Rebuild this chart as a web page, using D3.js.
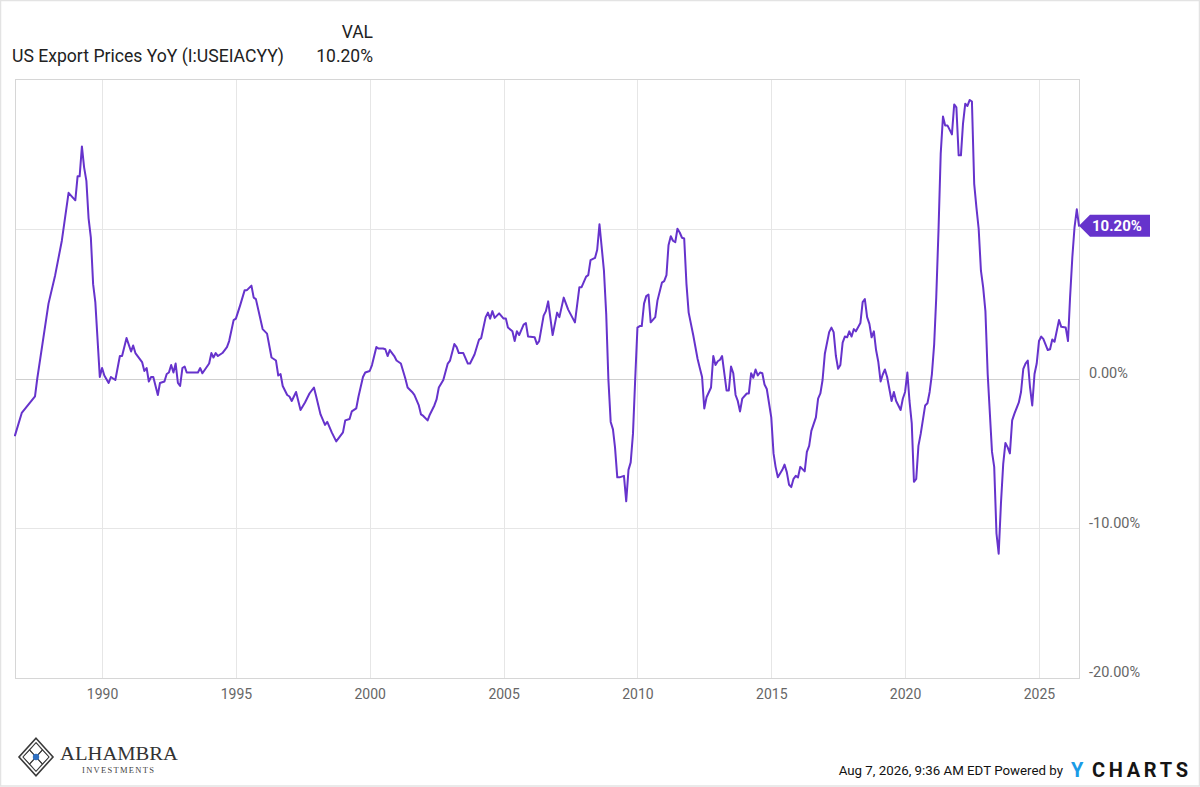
<!DOCTYPE html>
<html>
<head>
<meta charset="utf-8">
<script src="https://cdn.jsdelivr.net/npm/d3@7/dist/d3.min.js"></script>
<style>
  html, body { margin: 0; padding: 0; background: #fff; }
  svg { display: block; font-family: Roboto, "Noto Sans", sans-serif; }
</style>
</head>
<body>
<svg id="chart" width="1200" height="787"></svg>
<script>
// ---------------- DATA ----------------
const seriesName = "US Export Prices YoY (I:USEIACYY)";
const valueHeader = "VAL";
const xTickYears = [1990, 1995, 2000, 2005, 2010, 2015, 2020, 2025];
const yTickValues = [-20, -10, 0];
const gridValues = [-10, 0, 10];
const footerText = "Aug 7, 2026, 9:36 AM EDT Powered by";

// [month, YoY % change]
const exportYoY = [
["1986-10",-3.8],["1987-01",-2.3],["1987-07",-1.2],["1987-08",0.0],["1988-01",5.0],["1988-04",6.9],
["1988-07",9.2],["1988-10",12.4],["1989-01",11.9],["1989-02",13.5],["1989-03",13.5],["1989-04",15.5],
["1989-05",14.1],["1989-06",13.2],["1989-07",10.7],["1989-08",9.4],["1989-09",6.3],["1989-10",5.1],
["1989-12",0.1],["1990-01",0.7],["1990-02",0.2],["1990-04",-0.3],["1990-05",0.1],["1990-07",-0.1],
["1990-09",1.5],["1990-10",1.5],["1990-12",2.7],["1991-02",1.8],["1991-03",2.2],["1991-04",1.7],
["1991-05",1.5],["1991-07",1.1],["1991-08",0.5],["1991-09",0.7],["1991-10",-0.2],["1991-11",0.1],
["1991-12",0.1],["1992-02",-1.1],["1992-03",-0.3],["1992-05",-0.2],["1992-06",0.3],["1992-07",0.4],
["1992-08",0.9],["1992-09",0.4],["1992-10",1.0],["1992-11",-0.3],["1992-12",-0.5],["1993-01",0.7],
["1993-02",0.8],["1993-03",0.4],["1993-08",0.4],["1993-09",0.7],["1993-10",0.35],["1994-01",1.0],
["1994-02",1.7],["1994-03",1.4],["1994-04",1.7],["1994-05",1.5],["1994-07",1.7],["1994-09",2.1],
["1994-10",2.5],["1994-12",3.9],["1995-01",4.0],["1995-03",4.9],["1995-05",5.9],["1995-06",5.9],
["1995-08",6.2],["1995-09",5.4],["1995-10",5.3],["1996-01",3.3],["1996-03",3.0],["1996-05",1.4],
["1996-07",1.2],["1996-08",0.2],["1996-09",0.3],["1996-10",-0.5],["1996-12",-1.1],["1997-01",-1.2],
["1997-02",-1.5],["1997-04",-0.9],["1997-06",-2.1],["1997-08",-1.6],["1997-10",-1.0],["1997-12",-0.6],
["1998-01",-1.2],["1998-03",-2.4],["1998-05",-3.1],["1998-06",-2.9],["1998-08",-3.6],["1998-10",-4.2],
["1999-01",-3.6],["1999-02",-2.8],["1999-04",-2.7],["1999-05",-2.2],["1999-07",-2.0],["1999-08",-1.2],
["1999-10",0.1],["1999-11",0.4],["2000-01",0.5],["2000-02",0.9],["2000-04",2.1],["2000-05",2.0],
["2000-07",2.0],["2000-08",1.95],["2000-09",1.5],["2000-10",1.9],["2000-12",1.5],["2001-01",1.2],
["2001-03",1.0],["2001-05",0.0],["2001-06",-0.6],["2001-08",-0.9],["2001-09",-1.1],["2001-11",-1.8],
["2001-12",-2.4],["2002-01",-2.5],["2002-03",-2.8],["2002-04",-2.4],["2002-06",-1.8],["2002-07",-1.4],
["2002-08",-0.6],["2002-10",-0.1],["2002-12",1.0],["2003-01",1.2],["2003-03",2.3],["2003-04",2.1],
["2003-05",1.7],["2003-07",1.7],["2003-09",1.0],["2003-10",1.0],["2003-12",1.6],["2004-02",2.6],
["2004-03",2.7],["2004-05",4.1],["2004-06",4.4],["2004-07",4.0],["2004-08",4.5],["2004-09",4.05],
["2004-11",4.35],["2005-01",4.0],["2005-02",4.0],["2005-03",3.4],["2005-05",3.15],["2005-06",2.5],
["2005-07",3.15],["2005-08",2.9],["2005-10",3.6],["2005-11",3.7],["2005-12",2.8],["2006-03",2.75],
["2006-04",2.3],["2006-05",2.5],["2006-07",4.2],["2006-08",4.5],["2006-09",5.15],["2006-11",2.9],
["2007-01",4.4],["2007-02",4.1],["2007-04",5.4],["2007-06",4.6],["2007-09",3.75],["2007-11",6.1],
["2007-12",6.1],["2008-02",6.8],["2008-03",6.9],["2008-04",7.9],["2008-06",8.05],["2008-07",8.6],
["2008-08",10.3],["2008-10",7.2],["2008-11",4.3],["2008-12",-0.1],["2009-01",-2.9],["2009-02",-3.4],
["2009-03",-4.6],["2009-04",-6.6],["2009-05",-6.6],["2009-07",-6.5],["2009-08",-8.2],["2009-09",-6.1],
["2009-10",-5.6],["2009-11",-3.7],["2009-12",-0.1],["2010-01",3.4],["2010-02",3.5],["2010-03",3.5],
["2010-04",5.0],["2010-05",5.5],["2010-06",5.6],["2010-07",3.75],["2010-09",4.1],["2010-10",5.2],
["2010-12",6.4],["2011-01",6.5],["2011-02",6.9],["2011-03",8.9],["2011-04",9.5],["2011-05",9.2],
["2011-06",9.1],["2011-07",10.0],["2011-08",9.75],["2011-09",9.4],["2011-10",9.35],["2011-11",6.3],
["2011-12",4.4],["2012-02",2.9],["2012-04",1.3],["2012-05",0.7],["2012-06",0.1],["2012-07",-2.0],
["2012-08",-1.25],["2012-10",-0.6],["2012-11",1.5],["2012-12",0.9],["2013-01",1.15],["2013-02",1.25],
["2013-03",1.5],["2013-05",-0.8],["2013-06",-0.8],["2013-07",0.8],["2013-08",0.35],["2013-09",-1.1],
["2013-10",-1.5],["2013-11",-2.2],["2013-12",-1.35],["2014-02",-1.0],["2014-03",-1.0],["2014-04",0.35],
["2014-05",0.05],["2014-06",0.6],["2014-07",0.2],["2014-08",0.4],["2014-09",0.35],["2014-10",-0.4],
["2014-11",-0.7],["2015-01",-2.6],["2015-02",-5.0],["2015-03",-5.9],["2015-04",-6.6],["2015-06",-6.1],
["2015-07",-5.75],["2015-08",-6.25],["2015-09",-7.1],["2015-10",-7.25],["2015-11",-6.7],["2015-12",-6.5],
["2016-01",-6.6],["2016-02",-5.9],["2016-04",-6.2],["2016-05",-4.9],["2016-06",-4.5],["2016-07",-3.5],
["2016-09",-2.6],["2016-10",-1.35],["2016-11",-1.0],["2016-12",-0.1],["2017-01",1.65],["2017-03",3.1],
["2017-04",3.4],["2017-05",3.1],["2017-06",1.5],["2017-07",0.65],["2017-08",0.9],["2017-09",2.4],
["2017-10",2.8],["2017-11",2.75],["2017-12",3.15],["2018-01",2.8],["2018-02",3.3],["2018-03",3.15],
["2018-05",3.7],["2018-06",5.1],["2018-07",5.3],["2018-08",4.1],["2018-09",3.65],["2018-10",2.75],
["2018-11",3.15],["2018-12",1.9],["2019-01",1.1],["2019-02",-0.2],["2019-03",0.25],["2019-04",0.6],
["2019-05",0.1],["2019-07",-1.5],["2019-08",-0.9],["2019-09",-1.5],["2019-11",-2.1],["2019-12",-1.35],
["2020-01",-0.9],["2020-02",0.4],["2020-03",-1.5],["2020-04",-3.0],["2020-05",-6.9],["2020-06",-6.7],
["2020-07",-4.5],["2020-08",-3.7],["2020-10",-1.8],["2020-11",-1.65],["2020-12",-0.9],["2021-01",0.3],
["2021-02",2.3],["2021-03",5.4],["2021-04",9.9],["2021-05",15.0],["2021-06",17.5],["2021-07",16.9],
["2021-08",16.9],["2021-09",16.6],["2021-10",16.3],["2021-11",18.3],["2021-12",18.1],["2022-01",14.9],
["2022-02",14.9],["2022-03",17.0],["2022-04",18.35],["2022-05",18.2],["2022-06",18.6],["2022-07",18.5],
["2022-08",13.0],["2022-09",11.4],["2022-10",10.0],["2022-11",7.2],["2022-12",6.1],["2023-01",4.5],
["2023-02",0.3],["2023-04",-4.9],["2023-05",-5.9],["2023-06",-10.35],["2023-07",-11.7],["2023-08",-8.35],
["2023-09",-5.7],["2023-10",-4.3],["2023-11",-4.6],["2023-12",-5.0],["2024-01",-2.8],["2024-02",-2.35],
["2024-04",-1.6],["2024-05",-0.9],["2024-06",0.65],["2024-07",1.0],["2024-08",1.2],["2024-09",-0.6],
["2024-10",-1.8],["2024-11",0.3],["2024-12",1.0],["2025-01",2.5],["2025-02",2.8],["2025-03",2.65],
["2025-05",1.9],["2025-06",1.95],["2025-07",2.6],["2025-08",2.45],["2025-10",3.9],["2025-11",3.45],
["2026-01",3.4],["2026-02",2.5],["2026-03",5.4],["2026-04",8.1],["2026-05",10.1],["2026-06",11.3],
["2026-07",10.2]
];

// ---------------- CHART ----------------
const W = 1200, H = 787;
const plot = { left: 15, right: 1079, top: 79, bottom: 678 };
const parseMonth = d3.utcParse("%Y-%m");
const data = exportYoY.map(d => ({ date: parseMonth(d[0]), value: d[1] }));
const last = data[data.length - 1];
const fmtPct = v => v.toFixed(2) + "%";

const svg = d3.select("#chart");

// outer frame
svg.append("rect").attr("x", 0.5).attr("y", 0.5).attr("width", W - 1).attr("height", H - 1.5)
  .attr("fill", "#fff").attr("stroke", "#e3e3e3").attr("stroke-width", 1.5);

const x = d3.scaleUtc()
  .domain([data[0].date, last.date])
  .range([plot.left, plot.right]);
const y = d3.scaleLinear().domain([-20, 20]).range([plot.bottom, plot.top]);

const tickDates = xTickYears.map(yr => new Date(Date.UTC(yr, 0, 1)));

// gridlines
const grid = svg.append("g");
grid.selectAll("line.v").data(tickDates).join("line")
  .attr("x1", d => Math.round(x(d)) + 0.5).attr("x2", d => Math.round(x(d)) + 0.5)
  .attr("y1", plot.top).attr("y2", plot.bottom)
  .attr("stroke", "#e6e6e6").attr("stroke-width", 1);
grid.selectAll("line.h").data(gridValues).join("line")
  .attr("x1", plot.left).attr("x2", plot.right)
  .attr("y1", d => Math.round(y(d)) + 0.5).attr("y2", d => Math.round(y(d)) + 0.5)
  .attr("stroke", d => d === 0 ? "#cfcfcf" : "#e6e6e6").attr("stroke-width", 1);

// plot frame
svg.append("rect")
  .attr("x", plot.left + 0.5).attr("y", plot.top + 0.5)
  .attr("width", plot.right - plot.left).attr("height", plot.bottom - plot.top)
  .attr("fill", "none").attr("stroke", "#d6d6d6").attr("stroke-width", 1);

// x axis labels
const xAxis = d3.axisBottom(x).tickValues(tickDates).tickFormat(d3.utcFormat("%Y"))
  .tickSize(0).tickPadding(11);
const gx = svg.append("g").attr("transform", `translate(0,${plot.bottom})`).call(xAxis);
gx.select(".domain").remove();
gx.selectAll("text").attr("fill", "#666").style("font-size", "14px").style("font-family", "Roboto");

// y axis labels (the 10% label sits under the last-value badge)
const yAxis = d3.axisRight(y).tickValues(yTickValues).tickFormat(fmtPct).tickSize(0).tickPadding(10);
const gy = svg.append("g").attr("transform", `translate(${plot.right},0)`).call(yAxis);
gy.select(".domain").remove();
gy.selectAll("text").attr("fill", "#666").attr("dy", "-0.08em")
  .style("font-size", "14.5px").style("font-family", "Roboto");

// line
const line = d3.line().x(d => x(d.date)).y(d => y(d.value));
svg.append("path").datum(data)
  .attr("d", line).attr("fill", "none")
  .attr("stroke", "#6633cc").attr("stroke-width", 2)
  .attr("stroke-linejoin", "round").attr("stroke-linecap", "round");

// last-value badge
const bx = plot.right, by = y(last.value);
svg.append("path")
  .attr("d", `M${bx},${by} L${bx + 11},${by - 11} L${bx + 71},${by - 11} L${bx + 71},${by + 11} L${bx + 11},${by + 11} Z`)
  .attr("fill", "#6633cc");
svg.append("text").attr("x", bx + 13).attr("y", by + 5.5)
  .attr("fill", "#fff").style("font-size", "15px").style("font-weight", "bold")
  .text(fmtPct(last.value));

// header legend
svg.append("text").attr("x", 12).attr("y", 62).attr("fill", "#222")
  .style("font-size", "17.5px").attr("textLength", 272).attr("lengthAdjust", "spacingAndGlyphs")
  .text(seriesName);
svg.append("text").attr("x", 373).attr("y", 38).attr("text-anchor", "end").attr("fill", "#222")
  .style("font-size", "17.5px").text(valueHeader);
svg.append("text").attr("x", 373).attr("y", 62).attr("text-anchor", "end").attr("fill", "#222")
  .style("font-size", "17.5px").text(fmtPct(last.value));

// footer
svg.append("text").attr("x", 1063).attr("y", 775).attr("text-anchor", "end").attr("fill", "#111")
  .style("font-size", "13.3px").text(footerText);
svg.append("text").attr("x", 1071).attr("y", 777).attr("fill", "#1a9be6")
  .style("font-size", "20px").style("font-weight", "bold").text("Y");
svg.append("text").attr("x", 1092).attr("y", 777).attr("fill", "#151515")
  .style("font-size", "20px").style("font-weight", "bold")
  .attr("textLength", 96).attr("lengthAdjust", "spacing").text("CHARTS");

// Alhambra logo
const logo = svg.append("g").attr("transform", "translate(36,757)");
const dia = (r) => `M0,${-r * 1.1} L${r},0 L0,${r * 1.1} L${-r},0 Z`;
logo.append("path").attr("d", dia(17)).attr("fill", "none").attr("stroke", "#3a3a3a").attr("stroke-width", 1.6);
logo.append("path").attr("d", dia(13)).attr("fill", "none").attr("stroke", "#555").attr("stroke-width", 1);
[-6.5, 6.5].forEach(o => {
  logo.append("path").attr("d", dia(6.5)).attr("transform", `translate(${o},0)`)
    .attr("fill", "none").attr("stroke", "#444").attr("stroke-width", 1.1);
  logo.append("path").attr("d", dia(6.5)).attr("transform", `translate(0,${o * 1.1})`)
    .attr("fill", "none").attr("stroke", "#444").attr("stroke-width", 1.1);
});
logo.append("circle").attr("r", 3.2).attr("fill", "#2f6fc0");
svg.append("text").attr("x", 60).attr("y", 760).attr("fill", "#333")
  .style("font-family", "'Liberation Serif', 'DejaVu Serif', serif").style("font-size", "19px")
  .attr("textLength", 118).attr("lengthAdjust", "spacingAndGlyphs").text("ALHAMBRA");
svg.append("text").attr("x", 82).attr("y", 773).attr("fill", "#444")
  .style("font-family", "'Liberation Serif', 'DejaVu Serif', serif").style("font-size", "8.5px")
  .attr("textLength", 72).attr("lengthAdjust", "spacing").text("INVESTMENTS");
</script>
</body>
</html>
